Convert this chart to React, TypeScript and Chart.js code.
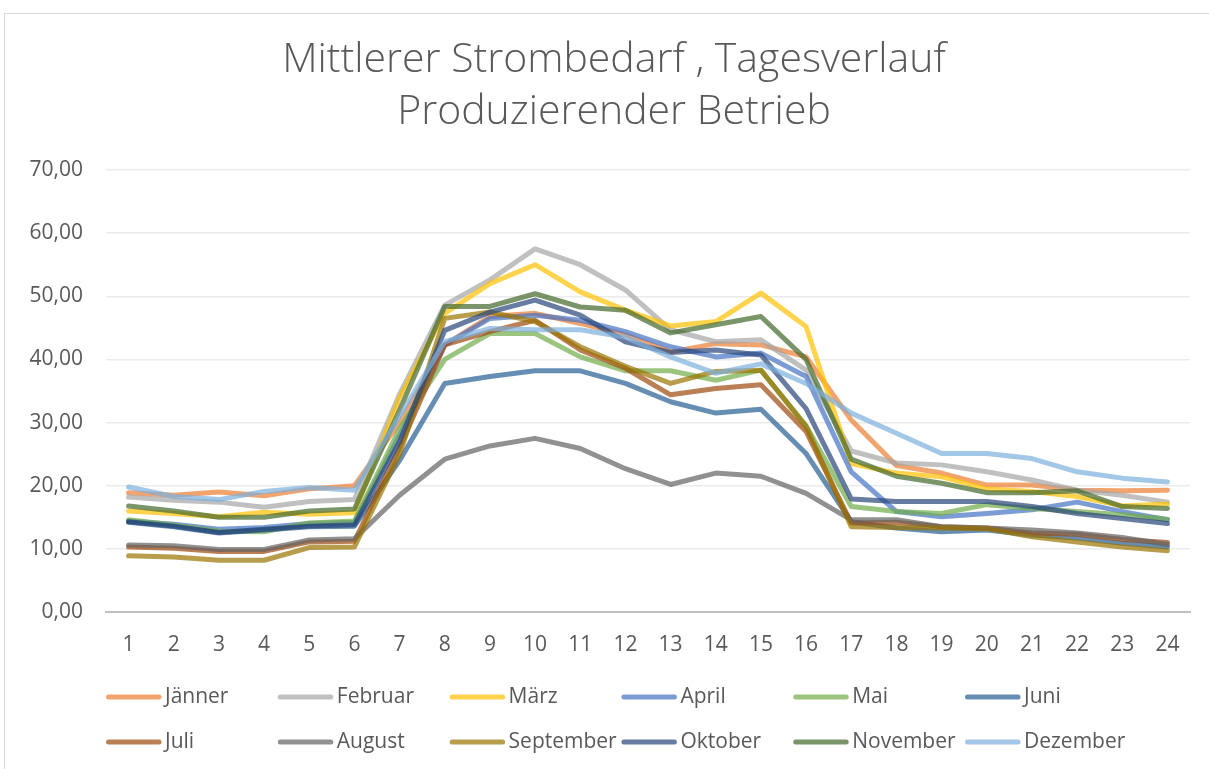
import React, { useEffect, useRef } from 'react';
import { Chart, registerables } from 'chart.js';

Chart.register(...registerables);

const hours = ['1', '2', '3', '4', '5', '6', '7', '8', '9', '10', '11', '12', '13', '14', '15', '16', '17', '18', '19', '20', '21', '22', '23', '24'];

const months = ['Jänner', 'Februar', 'März', 'April', 'Mai', 'Juni', 'Juli', 'August', 'September', 'Oktober', 'November', 'Dezember'];

const jaenner = [18.9, 18.5, 19.0, 18.4, 19.5, 20.0, 30.0, 42.3, 46.8, 47.3, 45.7, 43.9, 41.2, 42.5, 42.3, 40.4, 30.4, 23.2, 22.0, 20.1, 20.1, 19.3, 19.2, 19.3];
const februar = [18.2, 17.7, 17.4, 16.6, 17.5, 17.8, 34.5, 48.6, 52.6, 57.5, 55.0, 51.0, 44.7, 42.8, 43.1, 38.3, 25.5, 23.6, 23.3, 22.2, 20.9, 19.3, 18.5, 17.4];
const maerz = [16.0, 15.6, 15.1, 15.8, 15.5, 15.7, 34.0, 47.3, 52.0, 55.0, 50.7, 47.8, 45.3, 46.0, 50.5, 45.2, 23.5, 22.0, 21.4, 19.5, 19.1, 18.3, 16.8, 17.1];
const april = [14.4, 13.9, 13.1, 13.4, 14.0, 14.2, 28.0, 42.3, 46.5, 47.0, 46.2, 44.4, 42.0, 40.4, 41.0, 37.3, 22.2, 15.9, 15.1, 15.6, 16.2, 17.4, 15.9, 14.6];
const mai = [14.6, 13.8, 12.8, 12.7, 14.1, 14.4, 29.0, 40.0, 44.1, 44.1, 40.4, 38.2, 38.2, 36.7, 38.3, 29.5, 16.7, 15.9, 15.6, 17.0, 16.4, 15.9, 15.4, 14.7];
const juni = [14.2, 13.5, 12.5, 13.0, 13.5, 13.6, 24.0, 36.2, 37.3, 38.2, 38.2, 36.2, 33.3, 31.5, 32.1, 25.1, 14.3, 13.3, 12.7, 13.0, 12.2, 11.7, 10.9, 10.3];
const juli = [10.3, 10.1, 9.6, 9.6, 11.1, 11.2, 26.0, 42.3, 44.4, 46.2, 41.5, 38.6, 34.4, 35.4, 36.0, 28.6, 14.1, 14.2, 13.5, 13.3, 12.5, 12.3, 11.5, 11.0];
const august = [10.6, 10.5, 9.9, 9.9, 11.4, 11.6, 18.5, 24.2, 26.3, 27.5, 25.9, 22.7, 20.2, 22.0, 21.5, 18.8, 14.6, 14.6, 13.5, 13.3, 13.0, 12.5, 11.8, 10.7];
const september = [8.9, 8.7, 8.2, 8.2, 10.2, 10.3, 25.0, 46.5, 47.5, 46.0, 42.0, 38.9, 36.2, 38.1, 38.3, 29.4, 13.5, 13.4, 13.3, 13.2, 11.9, 11.1, 10.3, 9.7];
const oktober = [14.3, 13.6, 12.6, 13.1, 13.6, 13.8, 27.0, 44.6, 47.5, 49.4, 47.0, 42.8, 41.1, 41.5, 40.7, 32.2, 17.9, 17.5, 17.5, 17.5, 16.7, 15.6, 14.8, 14.0];
const november = [16.8, 16.0, 15.0, 15.0, 16.0, 16.3, 32.0, 48.4, 48.4, 50.4, 48.3, 47.8, 44.2, 45.5, 46.8, 40.0, 24.2, 21.5, 20.4, 18.9, 18.9, 19.2, 16.7, 16.4];
const dezember = [19.8, 18.3, 17.8, 19.1, 19.7, 19.3, 31.0, 42.8, 44.9, 44.7, 44.7, 43.5, 40.4, 37.8, 39.3, 36.2, 31.5, 28.3, 25.1, 25.1, 24.3, 22.2, 21.2, 20.6];

const seriesValues = [jaenner, februar, maerz, april, mai, juni, juli, august, september, oktober, november, dezember];

const seriesColors = [
  'rgba(237,125,49,0.7)',
  'rgba(165,165,165,0.7)',
  'rgba(255,192,0,0.7)',
  'rgba(68,114,196,0.7)',
  'rgba(112,173,71,0.7)',
  'rgba(37,94,145,0.7)',
  'rgba(158,72,14,0.7)',
  'rgba(99,99,99,0.7)',
  'rgba(153,115,0,0.7)',
  'rgba(38,68,120,0.7)',
  'rgba(67,104,43,0.7)',
  'rgba(124,175,221,0.7)',
];

const titleLines = ['Mittlerer Strombedarf , Tagesverlauf', 'Produzierender Betrieb'];

const FONT = '"Open Sans", "Liberation Sans", sans-serif';
const TEXT = '#595959';

const chartTitle = {
  id: 'chartTitle',
  afterDraw(chart: any) {
    const ctx = chart.ctx;
    ctx.save();
    ctx.fillStyle = TEXT;
    ctx.font = `300 41px ${FONT}`;
    ctx.textAlign = 'center';
    ctx.textBaseline = 'middle';
    titleLines.forEach((line, i) => {
      ctx.fillText(line, 614, 60 + i * 52);
    });
    ctx.restore();
  },
};

const gridLegend = {
  id: 'gridLegend',
  afterDraw(chart: any) {
    const ctx = chart.ctx;
    ctx.save();
    chart.data.datasets.forEach((ds: any, i: number) => {
      const col = i % 6;
      const row = Math.floor(i / 6);
      const x0 = 106 + col * 171.8;
      const y = 697 + row * 45;
      ctx.strokeStyle = ds.borderColor;
      ctx.lineWidth = 5;
      ctx.lineCap = 'round';
      ctx.beginPath();
      ctx.moveTo(x0 + 2.5, y);
      ctx.lineTo(x0 + 53, y);
      ctx.stroke();
      ctx.fillStyle = TEXT;
      ctx.font = `21px ${FONT}`;
      ctx.textBaseline = 'middle';
      ctx.textAlign = 'left';
      ctx.fillText(ds.label, x0 + 59, y);
    });
    ctx.restore();
  },
};

export default function App() {
  const canvasRef = useRef<HTMLCanvasElement | null>(null);

  useEffect(() => {
    if (!canvasRef.current) return;
    const chart = new Chart(canvasRef.current, {
      type: 'line',
      data: {
        labels: hours,
        datasets: months.map((m, i) => ({
          label: m,
          data: seriesValues[i],
          borderColor: seriesColors[i],
          backgroundColor: seriesColors[i],
          borderWidth: 5,
          borderJoinStyle: 'round' as const,
          borderCapStyle: 'round' as const,
          pointRadius: 0,
          pointHoverRadius: 0,
          tension: 0,
          fill: false,
          order: 11 - i,
        })),
      },
      options: {
        animation: false,
        responsive: true,
        maintainAspectRatio: false,
        layout: { padding: { left: 6, right: 19, top: 170, bottom: 100 } },
        plugins: {
          legend: { display: false },
          tooltip: { enabled: false },
          title: { display: false },
        },
        scales: {
          x: {
            offset: true,
            grid: { display: false, drawTicks: false },
            border: { display: true, color: '#bfbfbf', width: 2 },
            ticks: { color: TEXT, font: { family: FONT, size: 21 }, padding: 20, maxRotation: 0, autoSkip: false },
            afterFit: (s: any) => { s.height = 57; },
          },
          y: {
            min: 0,
            max: 70,
            grid: {
              drawTicks: false,
              color: (c: any) => (c.tick && c.tick.value === 0 ? 'rgba(0,0,0,0)' : '#ebebeb'),
              lineWidth: 1.5,
            },
            border: { display: false },
            ticks: {
              stepSize: 10,
              color: TEXT,
              font: { family: FONT, size: 21 },
              padding: 23,
              callback: (v: any) => Number(v).toFixed(2).replace('.', ','),
            },
            afterFit: (s: any) => { s.width = 100; },
          },
        },
      },
      plugins: [chartTitle, gridLegend],
    });
    return () => chart.destroy();
  }, []);

  return (
    <div style={{ position: 'absolute', left: 0, top: 0, width: 1209, height: 769, overflow: 'hidden', background: '#fff' }}>
      <div style={{ position: 'absolute', left: 4, top: 13, width: 1400, height: 900, border: '1px solid #d9d9d9' }} />
      <div style={{ position: 'absolute', left: 0, top: 0, width: 1209, height: 769 }}>
        <canvas ref={canvasRef} />
      </div>
    </div>
  );
}
